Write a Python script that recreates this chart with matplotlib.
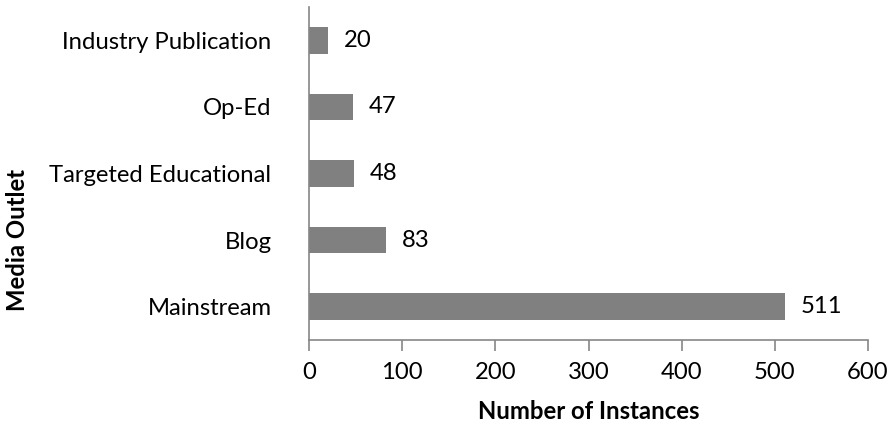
import matplotlib.pyplot as plt

# data
outlets = ["Mainstream", "Blog", "Targeted Educational", "Op-Ed", "Industry Publication"]
instances = [511, 83, 48, 47, 20]
x_ticks = [0, 100, 200, 300, 400, 500, 600]

plt.rcParams['font.family'] = ['Lato', 'DejaVu Sans']
fs = 17.2

fig = plt.figure(figsize=(8.89, 4.30), dpi=100)
ax = fig.add_axes([309 / 889, 1 - 340 / 430, (868 - 309) / 889, (340 - 7) / 430])

pos = range(len(outlets))
ax.barh(pos, instances, height=0.4, color='#808080')

for i, v in enumerate(instances):
    ax.text(v + 17, i, str(v), ha='left', va='center', fontsize=fs, color='black')

ax.set_xlim(0, 600)
ax.set_ylim(-0.5, len(outlets) - 0.5)
ax.set_xticks(x_ticks)
ax.set_yticks(list(pos))
ax.set_yticklabels(outlets, fontsize=fs)
ax.tick_params(axis='x', labelsize=fs, length=8, width=1.2, color='#868686', direction='out', pad=8)
ax.tick_params(axis='y', length=0, pad=27)

for s in ['top', 'right']:
    ax.spines[s].set_visible(False)
for s in ['left', 'bottom']:
    ax.spines[s].set_color('#868686')
    ax.spines[s].set_linewidth(1.2)

ax.set_xlabel('Number of Instances', fontsize=fs, fontweight='bold')
ax.set_ylabel('Media Outlet', fontsize=fs, fontweight='bold')
ax.xaxis.set_label_coords(0.5, -(400 - 340) / 333)
ax.yaxis.set_label_coords(-(309 - 29) / 559, (340 - 240) / 333)

fig.savefig('out.png', dpi=100)
